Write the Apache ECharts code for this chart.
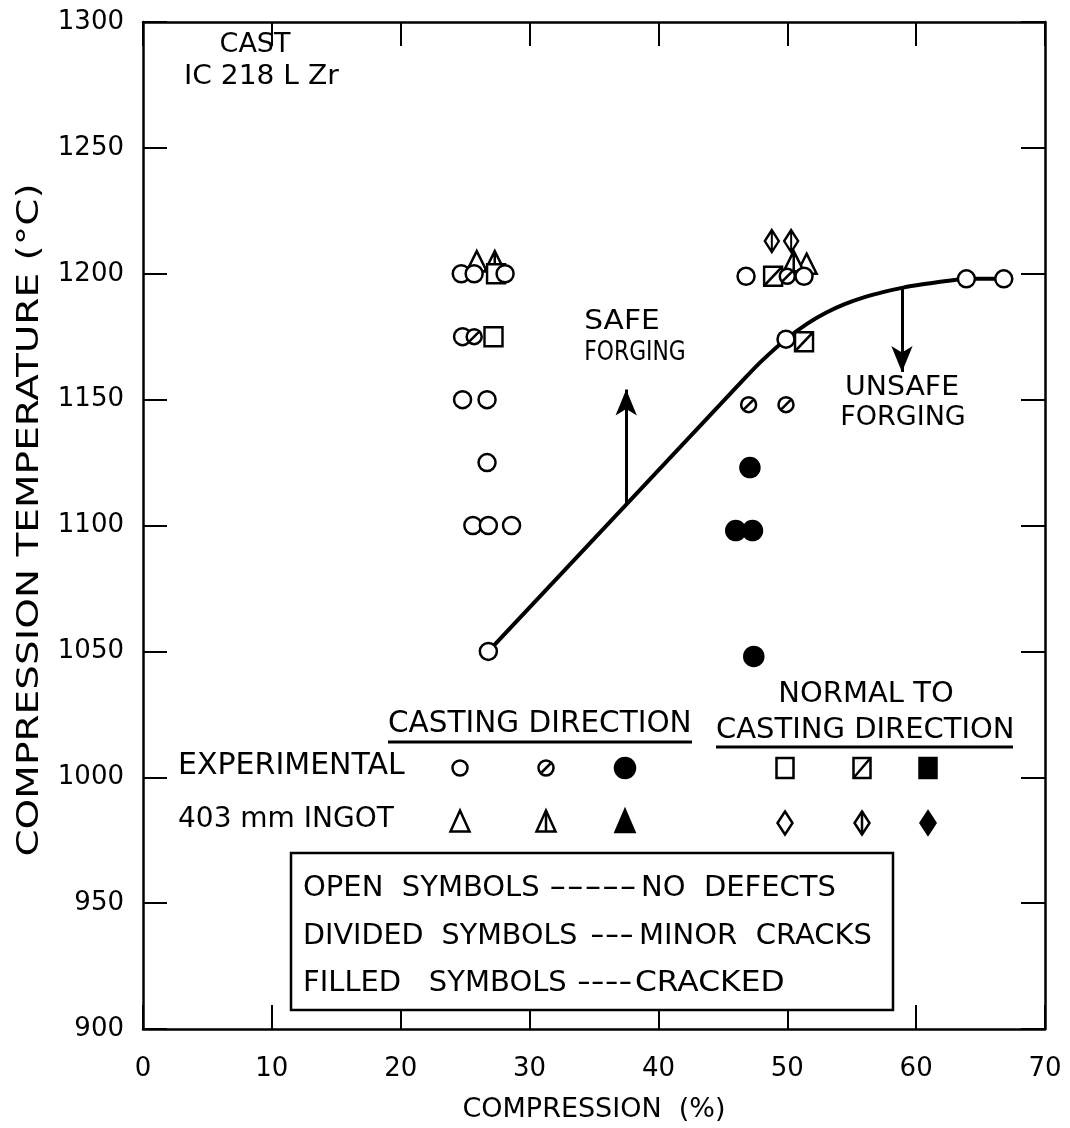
<!DOCTYPE html>
<html><head><meta charset="utf-8">
<script src="https://cdn.jsdelivr.net/npm/echarts@6/dist/echarts.min.js"></script>
<style>html,body{margin:0;padding:0;background:#fff}#c{width:1070px;height:1128px}</style>
</head><body><div id="c"></div>
<script>
// ---- data (compression %, temperature °C) ----
const xTicks = [0, 10, 20, 30, 40, 50, 60, 70];
const yTicks = [900, 950, 1000, 1050, 1100, 1150, 1200, 1250, 1300];

// Experimental, casting direction (circles)
const expOpenCasting = [[24.7,1200],[25.7,1200],[28.1,1200],[24.8,1175],[24.8,1150],[26.7,1150],[26.7,1125],[25.6,1100],[26.8,1100],[28.6,1100],[26.8,1050],[46.8,1199],[51.3,1199],[49.9,1174],[63.9,1198],[66.8,1198]];
const expDividedCasting = [[25.7,1175],[50.0,1199],[47.0,1148],[49.9,1148]];
const expFilledCasting = [[47.1,1123],[46.0,1098],[47.3,1098],[47.4,1048]];
// Experimental, normal to casting direction (squares)
const expOpenNormal = [[27.4,1200],[27.2,1175]];
const expDividedNormal = [[48.9,1199],[51.3,1173]];
// 403 mm ingot, casting direction (triangles)
const ingotOpenCasting = [[25.9,1205],[51.5,1204]];
const ingotDividedCasting = [[27.3,1205],[50.5,1205]];
// 403 mm ingot, normal to casting direction (diamonds)
const ingotDividedNormal = [[48.8,1213],[50.3,1213]];

// safe / unsafe forging boundary
const boundaryCurve = [[26.8,1050],[46.8,1159],[48.0,1165.3],[49.9,1174],[51.5,1180],[53.0,1184.5],[54.5,1188],[56.0,1190.7],[57.5,1192.8],[59.0,1194.5],[60.5,1195.8],[62.0,1196.9],[63.9,1198],[66.8,1198]];
const safeArrow = [[37.5,1108.3],[37.5,1154]];
const unsafeArrow = [[58.9,1194.4],[58.9,1161]];

// ---- styling ----
const FONT = 'DejaVu Sans';
const P = {
  circle: 'circle',
  circleDiv: 'path://M0,10A10,10 0 1,1 20,10A10,10 0 1,1 0,10Z M4,16L16,4',
  square: 'path://M0,0L20,0L20,20L0,20Z',
  squareDiv: 'path://M0,0L20,0L20,20L0,20Z M0,20L20,0',
  tri: 'path://M10,0L20,20L0,20Z',
  triDiv: 'path://M10,0L20,20L0,20Z M10,0L10,20',
  diaDiv: 'path://M7,0L14,11L7,22L0,11Z M7,0L7,22'
};
function sc(name, data, sym, size, filled) {
  return {
    name, type: 'scatter', data, symbol: sym, symbolSize: size,
    itemStyle: { color: filled ? '#000' : '#fff', borderColor: '#000', borderWidth: 2.5, opacity: 1 },
    emphasis: { disabled: true }, z: 3
  };
}

const axisLine = { show: true, onZero: false, lineStyle: { color: '#000', width: 2.5 } };
const tick = { show: true, inside: true, length: 24, lineStyle: { color: '#000', width: 2 } };

function txt(text, x, y, align, size, extra) {
  return Object.assign({ type: 'text', x, y, style: { text, fill: '#000', fontFamily: FONT, fontSize: size || 30, align: align || 'left', verticalAlign: 'middle' } }, extra || {});
}
const ST = (f) => ({ fill: f ? '#000' : '#fff', stroke: '#000', lineWidth: 2.5 });
const LN = (x1, y1, x2, y2, w) => ({ type: 'line', shape: { x1, y1, x2, y2 }, style: { stroke: '#000', lineWidth: w || 2.5 } });
function circSym(cx, cy, r, filled, div) {
  const a = [{ type: 'circle', shape: { cx, cy, r }, style: ST(filled) }];
  if (div) a.push(LN(cx - r * 0.6, cy + r * 0.6, cx + r * 0.6, cy - r * 0.6));
  return a;
}
function sqSym(cx, cy, w, h, filled, div) {
  const a = [{ type: 'rect', shape: { x: cx - w / 2, y: cy - h / 2, width: w, height: h }, style: ST(filled) }];
  if (div) a.push(LN(cx - w / 2, cy + h / 2, cx + w / 2, cy - h / 2));
  return a;
}
function triSym(cx, cy, w, h, filled, div) {
  const a = [{ type: 'polygon', shape: { points: [[cx, cy - h / 2], [cx + w / 2, cy + h / 2], [cx - w / 2, cy + h / 2]] }, style: ST(filled) }];
  if (div) a.push(LN(cx, cy - h / 2, cx, cy + h / 2));
  return a;
}
function diaSym(cx, cy, w, h, filled, div) {
  const a = [{ type: 'polygon', shape: { points: [[cx, cy - h / 2], [cx + w / 2, cy], [cx, cy + h / 2], [cx - w / 2, cy]] }, style: ST(filled) }];
  if (div) a.push(LN(cx, cy - h / 2, cx, cy + h / 2));
  return a;
}

const graphic = [
  txt('COMPRESSION TEMPERATURE (°C)', 30, 520, 'center', 30, { rotation: Math.PI / 2, scaleX: 1.3 }),
  txt('CAST', 255, 45, 'center', 27),
  txt('IC 218 L Zr', 184, 77, 'left', 27, { scaleX: 1.04 }),
  txt('SAFE', 622, 322, 'center', 27, { scaleX: 1.1 }),
  txt('FORGING', 635, 353, 'center', 26, { scaleX: 0.84 }),
  txt('UNSAFE', 902, 388, 'center', 27, { scaleX: 1.05 }),
  txt('FORGING', 903, 418, 'center', 27),
  txt('CASTING DIRECTION', 388, 724, 'left', 29.5),
  LN(388, 742, 692, 742, 3),
  txt('NORMAL TO', 866, 694, 'center', 29),
  txt('CASTING DIRECTION', 716, 730, 'left', 29),
  LN(716, 747, 1013, 747, 3),
  txt('EXPERIMENTAL', 178, 766, 'left', 30),
  txt('403 mm INGOT', 178, 820, 'left', 28),
  ...circSym(460, 768, 7.5, false, false),
  ...circSym(546, 768, 7.5, false, true),
  ...circSym(625, 768, 10, true, false),
  ...sqSym(785, 768, 17, 20, false, false),
  ...sqSym(862, 768, 17, 20, false, true),
  ...sqSym(928, 768, 17, 20, true, false),
  ...triSym(460, 821, 19, 21, false, false),
  ...triSym(546, 821, 19, 21, false, true),
  ...triSym(625, 821, 19, 22, true, false),
  ...diaSym(785, 823, 15, 23, false, false),
  ...diaSym(862, 823, 15, 23, false, true),
  ...diaSym(928, 823, 15, 23, true, false),
  { type: 'rect', shape: { x: 291, y: 853, width: 602, height: 157 }, style: { fill: '#fff', stroke: '#000', lineWidth: 2.5 }, z: 10 },
  txt('OPEN  SYMBOLS', 303, 888, 'left', 29, { z: 11 }),
  txt('-----', 549, 888, 'left', 29, { z: 11, scaleX: 1.68 }),
  txt('NO  DEFECTS', 641, 888, 'left', 29, { z: 11 }),
  txt('DIVIDED  SYMBOLS', 303, 936, 'left', 29, { z: 11, scaleX: 0.985 }),
  txt('---', 590, 936, 'left', 29, { z: 11, scaleX: 1.4 }),
  txt('MINOR  CRACKS', 639, 936, 'left', 29, { z: 11 }),
  txt('FILLED   SYMBOLS', 303, 983, 'left', 29, { z: 11 }),
  txt('----', 577, 983, 'left', 29, { z: 11, scaleX: 1.32 }),
  txt('CRACKED', 635, 983, 'left', 29, { z: 11, scaleX: 1.08 })
];

const option = {
  animation: false,
  backgroundColor: '#fff',
  textStyle: { fontFamily: FONT, color: '#000' },
  grid: { left: 143, right: 25, top: 22, bottom: 99, containLabel: false },
  xAxis: [
    { type: 'value', min: xTicks[0], max: xTicks[xTicks.length - 1], interval: 10, position: 'bottom',
      axisLine, axisTick: tick, splitLine: { show: false },
      axisLabel: { color: '#000', fontSize: 26, margin: 27, fontFamily: FONT, formatter: v => String(v) },
      name: 'COMPRESSION  (%)', nameLocation: 'middle', nameGap: 67,
      nameTextStyle: { color: '#000', fontSize: 27, fontFamily: FONT } },
    { type: 'value', min: xTicks[0], max: xTicks[xTicks.length - 1], interval: 10, position: 'top',
      axisLine, axisTick: tick, axisLabel: { show: false }, splitLine: { show: false } }
  ],
  yAxis: [
    { type: 'value', min: yTicks[0], max: yTicks[yTicks.length - 1], interval: 50, position: 'left',
      axisLine, axisTick: tick, splitLine: { show: false },
      axisLabel: { color: '#000', fontSize: 26, margin: 19, fontFamily: FONT, formatter: v => String(v) } },
    { type: 'value', min: yTicks[0], max: yTicks[yTicks.length - 1], interval: 50, position: 'right',
      axisLine, axisTick: tick, axisLabel: { show: false }, splitLine: { show: false } }
  ],
  series: [
    { name: 'boundary', type: 'line', data: boundaryCurve, showSymbol: false, smooth: 0.15,
      lineStyle: { color: '#000', width: 4 }, z: 2, silent: true,
      markLine: { silent: true, symbol: ['none', 'arrow'], symbolSize: [16, 26], label: { show: false },
        lineStyle: { color: '#000', width: 3, type: 'solid' },
        data: [
          [{ coord: safeArrow[0] }, { coord: safeArrow[1] }],
          [{ coord: unsafeArrow[0] }, { coord: unsafeArrow[1] }]
        ] } },
    sc('ingot divided normal', ingotDividedNormal, P.diaDiv, [14, 22], false),
    sc('ingot open casting', ingotOpenCasting, P.tri, [20, 20], false),
    sc('ingot divided casting', ingotDividedCasting, P.triDiv, [20, 20], false),
    sc('exp open normal', expOpenNormal, P.square, [18, 19], false),
    sc('exp divided normal', expDividedNormal, P.squareDiv, [18, 19], false),
    sc('exp open casting', expOpenCasting, P.circle, 17, false),
    sc('exp divided casting', expDividedCasting, P.circleDiv, 15, false),
    sc('exp filled casting', expFilledCasting, P.circle, 19, true)
  ],
  graphic
};
const chart = echarts.init(document.getElementById('c'), null, { renderer: 'canvas' });
chart.setOption(option);
</script>
</body></html>
